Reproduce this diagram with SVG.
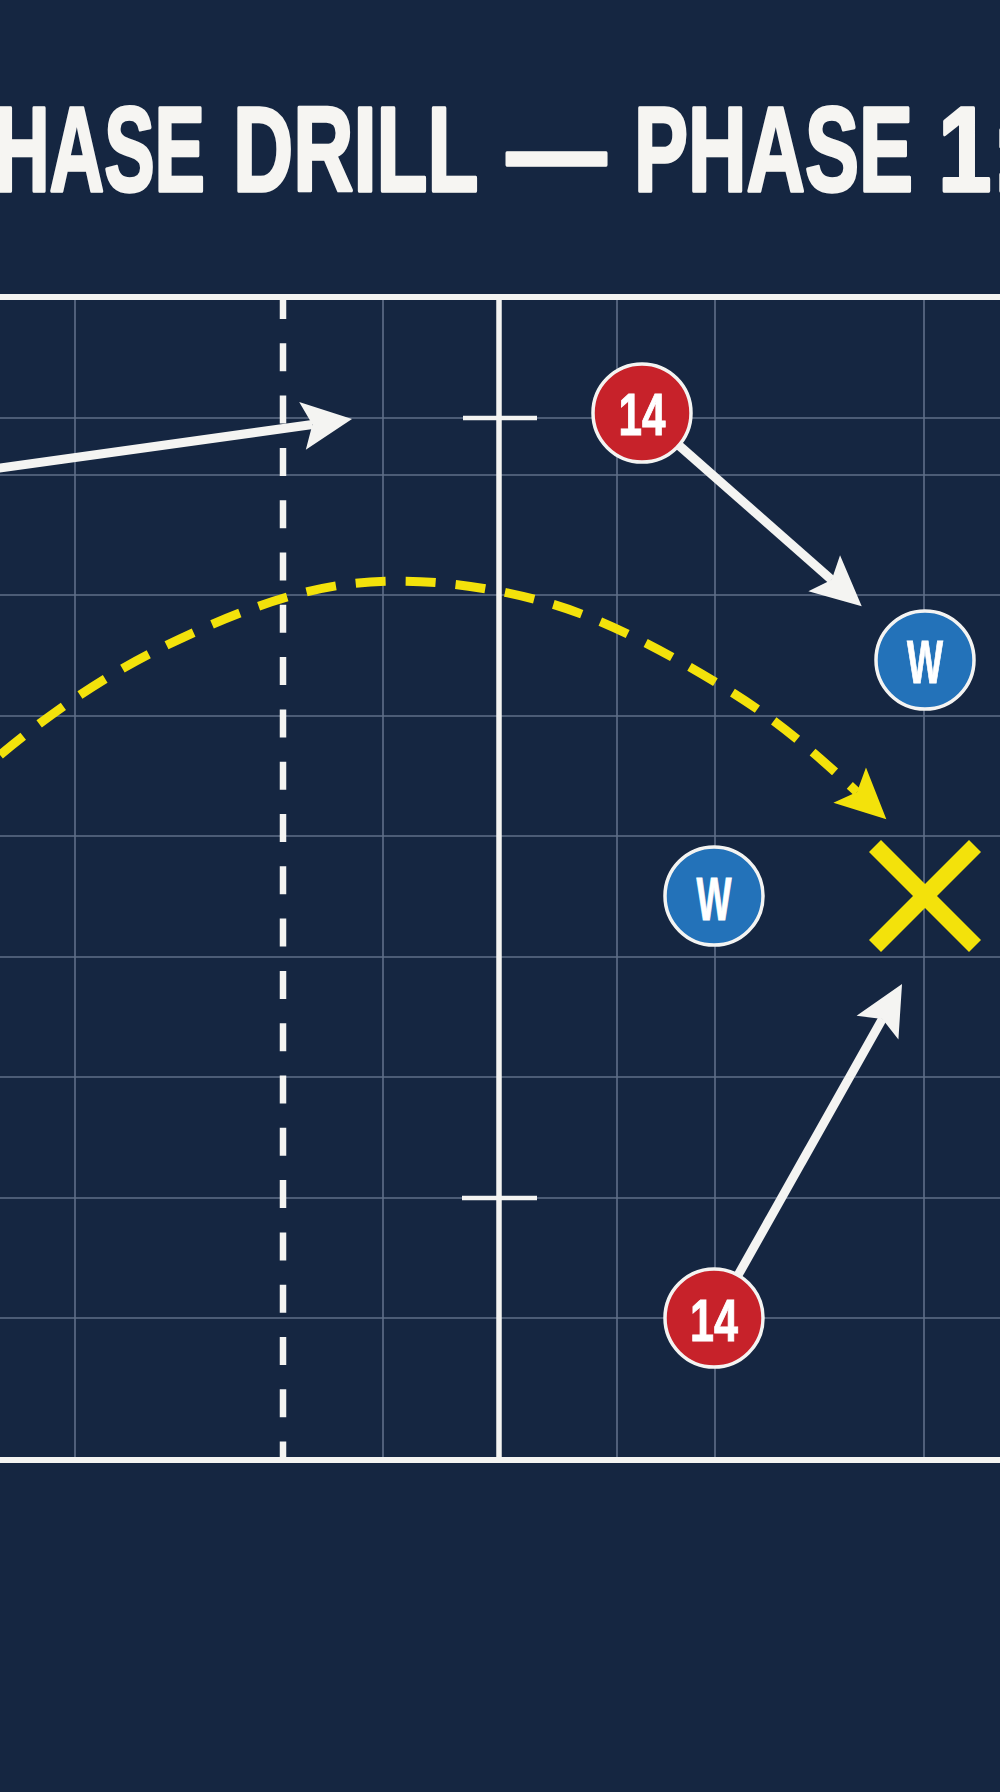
<svg xmlns="http://www.w3.org/2000/svg" width="1000" height="1792" viewBox="0 0 1000 1792">
  <defs>
    <style>
      .grid { stroke: #5f6f89; stroke-width: 1.6; fill: none; }
      .fieldline { stroke: #f4f4f2; fill: none; }
      .title { font-family: "Liberation Sans", Arial, sans-serif; font-weight: bold; font-size: 120px; fill: #f6f5f2; stroke: #f6f5f2; stroke-width: 3.5; stroke-linejoin: round; }
      .lbl { font-family: "Liberation Sans", Arial, sans-serif; font-weight: bold; fill: #ffffff; stroke: #ffffff; stroke-width: 1; text-anchor: middle; }
      .red { fill: #c7222a; stroke: #f4f4f2; stroke-width: 3.5; }
      .blue { fill: #2372b9; stroke: #f4f4f2; stroke-width: 3.5; }
      .run { stroke: #f4f4f2; stroke-width: 9; fill: none; marker-end: url(#headW); }
      .pass { stroke: #f3e20b; stroke-width: 9; fill: none; stroke-dasharray: 30 20; marker-end: url(#headY); }
    </style>
    <marker id="headW" viewBox="-12 -26 56 52" refX="0" refY="0" markerWidth="56" markerHeight="52" markerUnits="userSpaceOnUse" orient="auto">
      <path d="M-10,-24 L40,0 L-10,24 L0,0 Z" fill="#f4f4f2"/>
    </marker>
    <marker id="headY" viewBox="-12 -26 56 52" refX="0" refY="0" markerWidth="56" markerHeight="52" markerUnits="userSpaceOnUse" orient="auto">
      <path d="M-10,-24 L40,0 L-10,24 L0,0 Z" fill="#f3e20b"/>
    </marker>
  </defs>

  <rect x="0" y="0" width="1000" height="1792" fill="#152641"/>

  <g id="title">
    <text class="title" transform="translate(-5,191) scale(0.63,1)">HASE</text>
    <text class="title" transform="translate(233,191) scale(0.695,1)">DRILL</text>
    <text class="title" transform="translate(507,191) scale(0.825,1)">—</text>
    <text class="title" transform="translate(634,191) scale(0.675,1)">PHASE</text>
    <text class="title" transform="translate(938,191) scale(0.8,1)">1:</text>
  </g>

  <g id="field">
    <g id="grid">
      <line class="grid" x1="75" y1="297" x2="75" y2="1460"/>
      <line class="grid" x1="383" y1="297" x2="383" y2="1460"/>
      <line class="grid" x1="617" y1="297" x2="617" y2="1460"/>
      <line class="grid" x1="715" y1="297" x2="715" y2="1460"/>
      <line class="grid" x1="924" y1="297" x2="924" y2="1460"/>
      <line class="grid" x1="0" y1="418" x2="1000" y2="418"/>
      <line class="grid" x1="0" y1="475" x2="1000" y2="475"/>
      <line class="grid" x1="0" y1="595" x2="1000" y2="595"/>
      <line class="grid" x1="0" y1="716" x2="1000" y2="716"/>
      <line class="grid" x1="0" y1="836" x2="1000" y2="836"/>
      <line class="grid" x1="0" y1="957" x2="1000" y2="957"/>
      <line class="grid" x1="0" y1="1077" x2="1000" y2="1077"/>
      <line class="grid" x1="0" y1="1198" x2="1000" y2="1198"/>
      <line class="grid" x1="0" y1="1318" x2="1000" y2="1318"/>
    </g>
    <line class="fieldline" x1="283" y1="297" x2="283" y2="1460" stroke-width="6.5" stroke-dasharray="28 24.3" stroke-dashoffset="6"/>
    <line class="fieldline" x1="499" y1="297" x2="499" y2="1460" stroke-width="5.5"/>
    <line class="fieldline" x1="463" y1="418" x2="537" y2="418" stroke-width="4.5"/>
    <line class="fieldline" x1="462" y1="1198" x2="537" y2="1198" stroke-width="4.5"/>
    <line class="fieldline" x1="0" y1="297" x2="1000" y2="297" stroke-width="6"/>
    <line class="fieldline" x1="0" y1="1460" x2="1000" y2="1460" stroke-width="6"/>
  </g>

  <g id="connectors">
    <line class="run" x1="-5" y1="468.7" x2="312.4" y2="424.5"/>
    <line class="run" x1="679.6" y1="446" x2="831.7" y2="579.8"/>
    <line class="run" x1="738.5" y1="1274.4" x2="882.4" y2="1018.9"/>
    <path class="pass" d="M0,755 C48,715 102.8,676.5 161,648 C219.2,619.5 285,591.7 349,584 C413,576.3 482.3,584.7 545,602 C607.7,619.3 673,656.3 725,688 C777,719.7 816,754 857,792"/>
  </g>

  <g id="node-red-14-top">
    <circle class="red" cx="642" cy="413" r="49"/>
    <text class="lbl" x="642" y="435" font-size="60" textLength="47" lengthAdjust="spacingAndGlyphs">14</text>
  </g>
  <g id="node-blue-w-top">
    <circle class="blue" cx="925" cy="660" r="49"/>
    <text class="lbl" x="925" y="683" font-size="62" textLength="36" lengthAdjust="spacingAndGlyphs">W</text>
  </g>
  <g id="node-blue-w-mid">
    <circle class="blue" cx="714" cy="896" r="49"/>
    <text class="lbl" x="714" y="920" font-size="62" textLength="35" lengthAdjust="spacingAndGlyphs">W</text>
  </g>
  <g id="node-target-x">
    <line x1="875" y1="846" x2="975" y2="946" stroke="#f3e20b" stroke-width="17"/>
    <line x1="975" y1="846" x2="875" y2="946" stroke="#f3e20b" stroke-width="17"/>
  </g>
  <g id="node-red-14-bottom">
    <circle class="red" cx="714" cy="1318" r="49"/>
    <text class="lbl" x="714" y="1341" font-size="60" textLength="48" lengthAdjust="spacingAndGlyphs">14</text>
  </g>
</svg>
